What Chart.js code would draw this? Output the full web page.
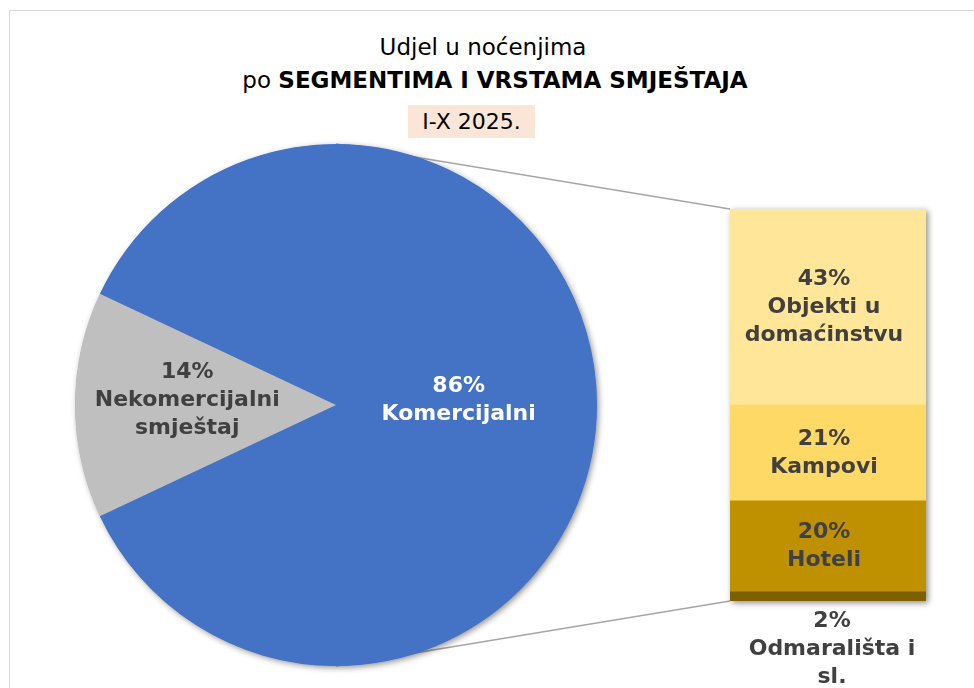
<!DOCTYPE html>
<html>
<head>
<meta charset="utf-8">
<script src="https://cdn.jsdelivr.net/npm/chart.js@4.4.1/dist/chart.umd.min.js"></script>
<style>
  body { margin: 0; background: #fff; }
  #wrap { position: relative; width: 974px; height: 688px; overflow: hidden; font-family: "DejaVu Sans", Verdana, sans-serif; }
  #frame { position: absolute; left: 9px; top: 10px; width: 1100px; height: 1100px; border: 1px solid #d9d9d9; }
  .t { position: absolute; text-align: center; color: #000; white-space: nowrap; }
  canvas { position: absolute; left: 0; top: 0; }
</style>
</head>
<body>
<div id="wrap">
  <div id="frame"></div>
  <div class="t" style="left:233px; width:500px; top:33px; font-size:23px; line-height:28px;">Udjel u noćenjima</div>
  <div class="t" style="left:145px; width:700px; top:66px; font-size:23px; line-height:28px;">po <b>SEGMENTIMA I VRSTAMA SMJEŠTAJA</b></div>
  <div class="t" style="left:408px; width:127px; top:105px; height:33px; font-size:22px; line-height:33px; background:#fbe5d6;">I-X 2025.</div>
  <canvas id="lines" width="974" height="688"></canvas>
  <canvas id="pie" width="974" height="688"></canvas>
  <canvas id="bar" width="974" height="688"></canvas>
</div>
<script>
// pie: share of nights by segment
const pieLabels = ['Komercijalni', 'Nekomercijalni smještaj'];
const pieValues = [86, 14];
// bar: commercial segment split by type (bottom to top)
const barLabels = ['Odmarališta i sl.', 'Hoteli', 'Kampovi', 'Objekti u domaćinstvu'];
const barValues = [2, 20, 21, 43];

const pieColors = ['#4472c4', '#bfbfbf'];
const pieText = ['#ffffff', '#404040'];
const barColors = ['#7f6000', '#bf9000', '#ffd966', '#ffe699'];

const labelFont = 'bold 22px "DejaVu Sans", Verdana, sans-serif';
const lineH = 28;

function wrap(ctx, text, maxW) {
  const words = text.split(' ');
  const out = [];
  let cur = '';
  words.forEach(w => {
    const test = cur ? cur + ' ' + w : w;
    if (cur && ctx.measureText(test).width > maxW) { out.push(cur); cur = w; }
    else cur = test;
  });
  if (cur) out.push(cur);
  return out;
}

function drawLines(ctx, lines, x, cy, color) {
  ctx.fillStyle = color;
  const top = cy - (lines.length - 1) * lineH / 2;
  lines.forEach((l, i) => ctx.fillText(l, x, top + i * lineH));
}

const total = pieValues.reduce((a, b) => a + b, 0);
// put the small slice centred on the left side
const rotation = 270 - (pieValues[0] + pieValues[1] / 2) / total * 360;

const pieShadow = {
  id: 'pieShadow',
  beforeDatasetsDraw(chart) {
    const a = chart.getDatasetMeta(0).data[0];
    const ctx = chart.ctx;
    ctx.save();
    ctx.shadowColor = 'rgba(0,0,0,0.45)';
    ctx.shadowBlur = 6;
    ctx.shadowOffsetX = 2;
    ctx.shadowOffsetY = 2;
    ctx.fillStyle = pieColors[0];
    ctx.beginPath();
    ctx.arc(a.x, a.y, a.outerRadius - 0.5, 0, Math.PI * 2);
    ctx.fill();
    ctx.restore();
  }
};

const pieLabelPlugin = {
  id: 'pieLabelPlugin',
  afterDatasetsDraw(chart) {
    const ctx = chart.ctx;
    const dist = [0.47, 0.57];
    ctx.save();
    ctx.font = labelFont;
    ctx.textAlign = 'center';
    ctx.textBaseline = 'middle';
    chart.getDatasetMeta(0).data.forEach((arc, i) => {
      const mid = (arc.startAngle + arc.endAngle) / 2;
      const r = arc.outerRadius * dist[i];
      const x = arc.x + Math.cos(mid) * r;
      const y = arc.y + Math.sin(mid) * r;
      const pct = Math.round(pieValues[i] / total * 100) + '%';
      drawLines(ctx, [pct].concat(wrap(ctx, pieLabels[i], 220)), x, y - 5, pieText[i]);
    });
    ctx.restore();
  }
};

const pie = new Chart(document.getElementById('pie'), {
  type: 'pie',
  data: {
    labels: pieLabels,
    datasets: [{ data: pieValues, backgroundColor: pieColors, borderWidth: 0, hoverOffset: 0 }]
  },
  options: {
    responsive: false,
    animation: false,
    events: [],
    rotation: rotation,
    layout: { padding: { left: 75, top: 144, right: 377, bottom: 22 } },
    plugins: { legend: { display: false }, tooltip: { enabled: false } }
  },
  plugins: [pieShadow, pieLabelPlugin]
});

const barShadow = {
  id: 'barShadow',
  beforeDatasetsDraw(chart) {
    const bottom = chart.getDatasetMeta(0).data[0];
    const top = chart.getDatasetMeta(barValues.length - 1).data[0];
    const ctx = chart.ctx;
    ctx.save();
    ctx.shadowColor = 'rgba(0,0,0,0.45)';
    ctx.shadowBlur = 6;
    ctx.shadowOffsetX = 2;
    ctx.shadowOffsetY = 2;
    ctx.fillStyle = barColors[0];
    ctx.fillRect(top.x - top.width / 2, top.y, top.width, bottom.base - top.y);
    ctx.restore();
  }
};

const barLabelPlugin = {
  id: 'barLabelPlugin',
  afterDatasetsDraw(chart) {
    const ctx = chart.ctx;
    ctx.save();
    ctx.font = labelFont;
    ctx.textAlign = 'center';
    ctx.textBaseline = 'middle';
    barLabels.forEach((name, i) => {
      const el = chart.getDatasetMeta(i).data[0];
      const lines = [barValues[i] + '%'].concat(wrap(ctx, name, 185));
      const h = el.base - el.y;
      let cy = (el.y + el.base) / 2;
      let x = el.x - 4;
      if (h < lines.length * lineH) {
        // too thin: put the label under the bar
        cy = el.base + 20 + (lines.length - 1) * lineH / 2;
        x = el.x + 4;
      }
      drawLines(ctx, lines, x, cy, '#404040');
    });
    ctx.restore();
  }
};

const bar = new Chart(document.getElementById('bar'), {
  type: 'bar',
  data: {
    labels: [''],
    datasets: barLabels.map((l, i) => ({
      label: l,
      data: [barValues[i]],
      backgroundColor: barColors[i],
      borderWidth: 0,
      barPercentage: 1,
      categoryPercentage: 1
    }))
  },
  options: {
    responsive: false,
    animation: false,
    events: [],
    layout: { padding: { left: 730, top: 209, right: 48, bottom: 87 } },
    scales: {
      x: { display: false, stacked: true },
      y: { display: false, stacked: true, min: 0, max: barValues.reduce((a, b) => a + b, 0) }
    },
    plugins: { legend: { display: false }, tooltip: { enabled: false } }
  },
  plugins: [barShadow, barLabelPlugin]
});

// connector lines from the pie top/bottom to the bar corners, behind the pie
(function () {
  const a = pie.getDatasetMeta(0).data[0];
  const b0 = bar.getDatasetMeta(0).data[0];
  const bt = bar.getDatasetMeta(barValues.length - 1).data[0];
  const left = bt.x - bt.width / 2;
  const ctx = document.getElementById('lines').getContext('2d');
  ctx.strokeStyle = '#a6a6a6';
  ctx.lineWidth = 1.5;
  ctx.beginPath();
  ctx.moveTo(a.x, a.y - a.outerRadius);
  ctx.lineTo(left, bt.y);
  ctx.moveTo(a.x, a.y + a.outerRadius);
  ctx.lineTo(left, b0.base);
  ctx.stroke();
})();
</script>
</body>
</html>
